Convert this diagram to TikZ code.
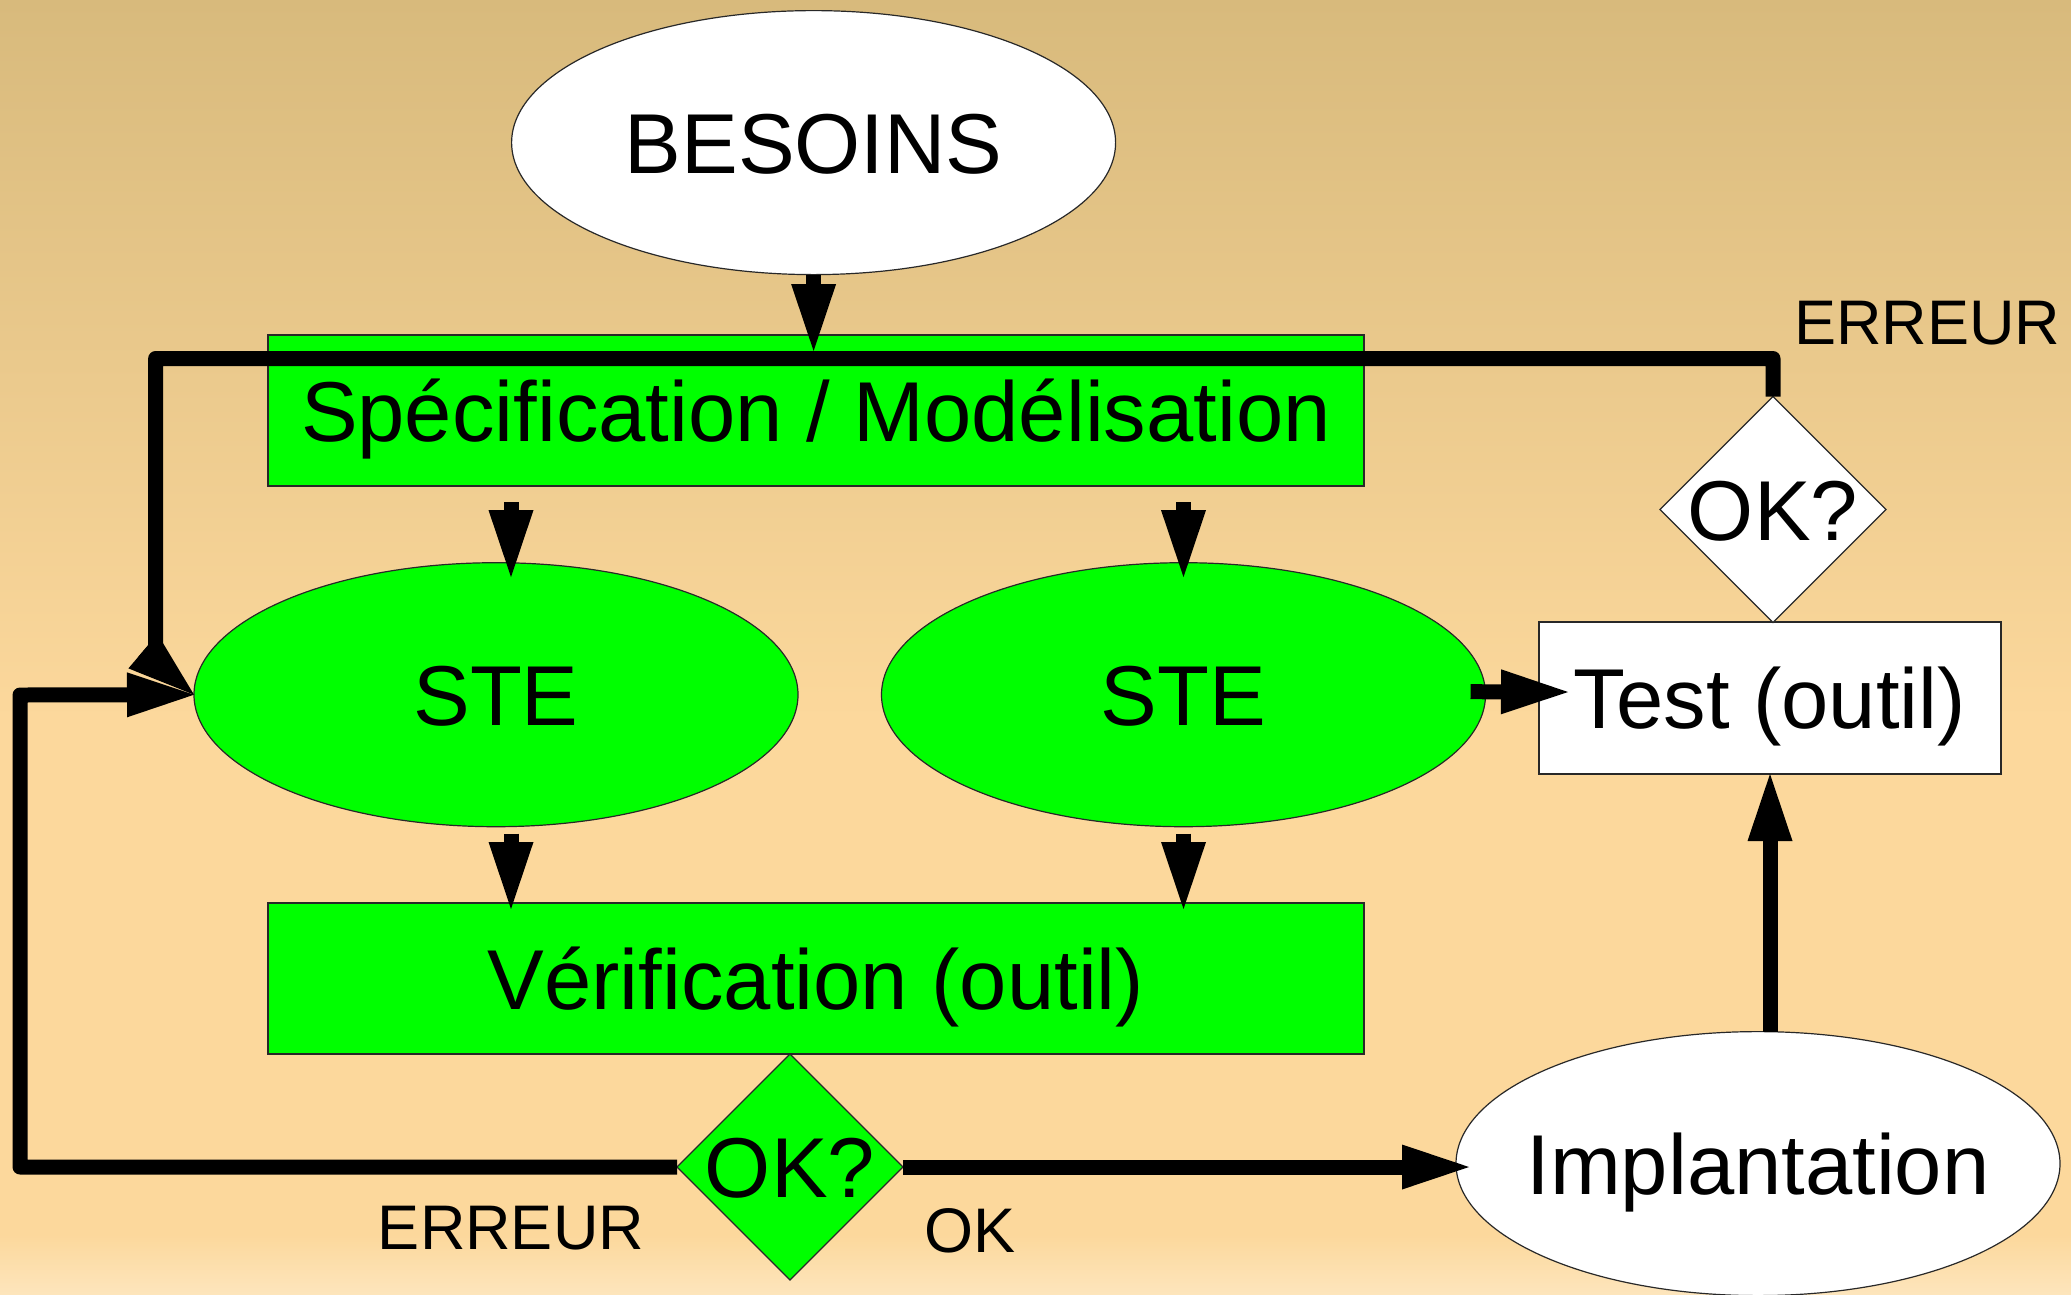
\documentclass[tikz,border=0pt]{standalone}
\usepackage{fontspec}
\setmainfont{Liberation Sans}
\usetikzlibrary{shapes.geometric,arrows.meta,calc}

\definecolor{bgtop}{RGB}{216,186,124}
\definecolor{bgmid}{RGB}{252,216,156}
\definecolor{bgbot}{RGB}{253,229,188}
\definecolor{boxgreen}{RGB}{0,255,0}
\definecolor{edge}{RGB}{40,40,40}

\begin{document}
\begin{tikzpicture}[x=1pt,y=-1pt,
  shapeline/.style={draw=edge, line width=1.2pt, outer sep=0pt, inner sep=0pt},
  ellipsebox/.style={shapeline, ellipse, minimum width=604pt, minimum height=264pt},
  rectbox/.style={shapeline, rectangle, minimum width=1096pt, minimum height=151pt},
  diamondbox/.style={shapeline, diamond, aspect=1, minimum width=226pt, minimum height=226pt},
  bigtxt/.style={font=\fontsize{85}{100}\selectfont, text height=61pt, text depth=0pt, inner sep=0pt},
  smalltxt/.style={font=\fontsize{63}{75}\selectfont, text height=45pt, text depth=0pt, inner sep=0pt},
  conn/.style={line width=15pt, -{Triangle[length=67pt,width=45pt,line width=0pt]}},
]
% background
\useasboundingbox (0,0) rectangle (2071,1294);
\fill[top color=bgtop, bottom color=bgmid] (0,0) rectangle (2071,722);
\fill[bgmid] (0,718) rectangle (2071,1238);
\fill[top color=bgmid, bottom color=bgbot] (0,1235) rectangle (2071,1294);

% shapes
\node[ellipsebox, fill=white, label={[bigtxt]center:BESOINS}] (besoins) at (813.6,142.6) {};
\node[rectbox, fill=boxgreen, label={[bigtxt]center:Spécification / Modélisation}] (spec) at (816,410.5) {};
\node[ellipsebox, fill=boxgreen, label={[bigtxt]center:STE}] (ste1) at (496,694.7) {};
\node[ellipsebox, fill=boxgreen, label={[bigtxt]center:STE}] (ste2) at (1183.5,694.7) {};
\node[rectbox, fill=boxgreen, label={[bigtxt]center:Vérification (outil)}] (verif) at (816,978.5) {};
\node[diamondbox, fill=boxgreen, label={[bigtxt]center:OK?}] (ok1) at (790,1167) {};
\node[ellipsebox, fill=white, label={[bigtxt]center:Implantation}] (impl) at (1758,1163.6) {};
\node[shapeline, rectangle, minimum width=462pt, minimum height=152pt, fill=white,
      label={[bigtxt]center:Test (outil)}] (test) at (1770,698) {};
\node[diamondbox, fill=white, label={[bigtxt]center:OK?}] (ok2) at (1773,509.5) {};

% loop labels
\node[smalltxt] (errtop) at (1927,321.6) {ERREUR};
\node[smalltxt] (errbot) at (511,1227) {ERREUR};
\node[smalltxt] (oklbl) at (969.5,1229.7) {OK};

% bends of the feedback loops
\coordinate (tl) at (155.6,358.5);
\coordinate (tlb) at (155.6,662);
\coordinate (bl) at (20,695);

% connectors
\draw[conn] (besoins.south) -- ($(besoins.south |- spec.north)+(0,16)$);
\draw[conn] ($(spec.south -| ste1.north)+(15,16)$) -- ($(ste1.north)+(15,14.4)$);
\draw[conn] ($(spec.south -| ste2.north)+(0,16)$) -- ($(ste2.north)+(0,14.4)$);
\draw[conn] ($(ste1.south)+(15,7)$) -- ($(verif.north -| ste1.south)+(15,6)$);
\draw[conn] ($(ste2.south)+(0,7)$) -- ($(verif.north -| ste2.south)+(0,6)$);
\draw[conn] ($(ste2.east)+(-15,-3)$) -- ($(test.west)+(29,-6)$);
\draw[conn] (test.south |- impl.north) -- (test.south);
\draw[conn] (ok1.east) -- ($(ok1.east -| impl.west)+(13,0)$);
\draw[conn, line join=round] (ok1.west) -| (bl) -- (ste1.west);
\draw[conn, line join=round] (ok2.north) |- (tl) -- (tlb) -- (ste1.west);
\end{tikzpicture}
\end{document}
